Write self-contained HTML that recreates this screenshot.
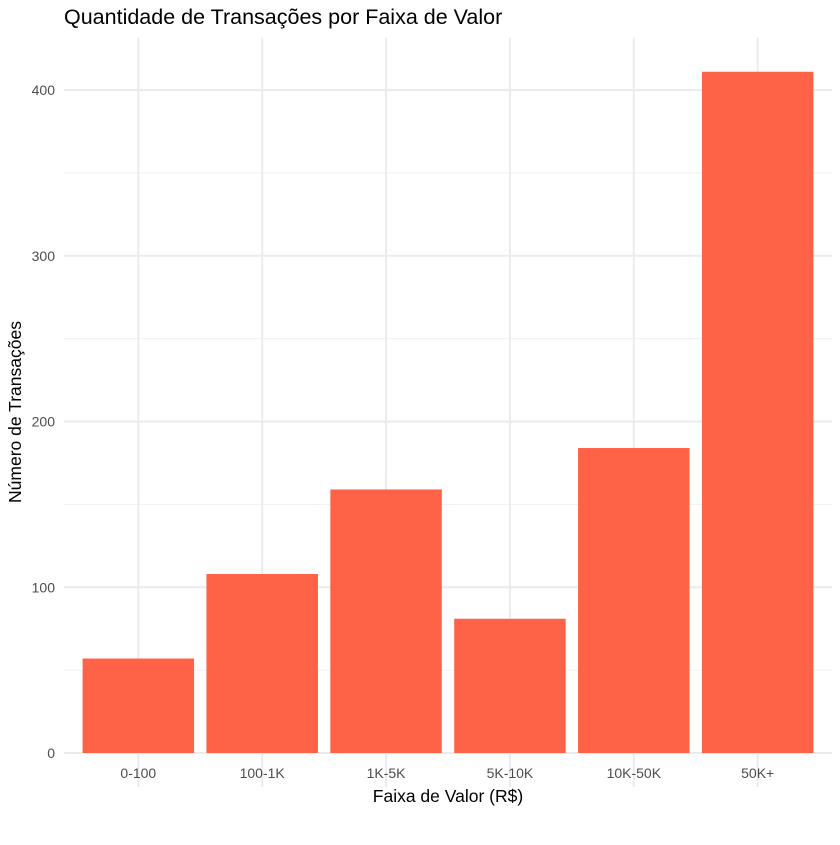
<!DOCTYPE html>
<html><head><meta charset="utf-8"><style>
body{margin:0;background:#fff;}
svg text{font-family:"Liberation Sans",sans-serif;}
</style></head><body>
<svg id="chart" width="840" height="840">
<text x="64" y="24" font-size="21.5" fill="#000">Quantidade de Transações por Faixa de Valor</text>
<g id="grid"></g><g id="bars"></g><g id="axes"></g>
<text x="448" y="802" font-size="17.5" text-anchor="middle" fill="#000">Faixa de Valor (R$)</text>
<text transform="translate(21,412) rotate(-90)" font-size="17.5" text-anchor="middle" fill="#000">Número de Transações</text>
</svg>
<script>
const categories=["0-100","100-1K","1K-5K","5K-10K","10K-50K","50K+"];
const values=[57,108,159,81,184,411];
const yTicks=[0,100,200,300,400];
const ns="http://www.w3.org/2000/svg";
const pl=64,pr=832,y0=753,unit=(753-90)/400;
const step=(pr-pl)/(categories.length+0.2);
const xc=i=>pl+step*(0.6+i);
const ys=v=>y0-v*unit;
function mk(t,a,p){const e=document.createElementNS(ns,t);for(const k in a)e.setAttribute(k,a[k]);p.appendChild(e);return e;}
const grid=document.getElementById('grid'),bars=document.getElementById('bars'),axes=document.getElementById('axes');
const panelTop=ys(431.5),panelBot=ys(-20.5);
yTicks.forEach((t,i)=>{
 const l=mk('line',{x1:pl,x2:pr,y1:ys(t),y2:ys(t),stroke:'#ebebeb','stroke-width':2},grid);
 
 
 if(i<yTicks.length-1){const m=mk('line',{x1:pl,x2:pr,y1:ys(t+50),y2:ys(t+50),stroke:'#f0f0f0','stroke-width':1},grid);
 
 }
 const tx=mk('text',{x:pl-9,y:ys(t)+5,'font-size':14,'text-anchor':'end',fill:'#4d4d4d'},axes);
 tx.textContent=t;
 
 
});
categories.forEach((c,i)=>{
 const g=mk('line',{x1:xc(i),x2:xc(i),y1:panelTop,y2:panelBot,stroke:'#ebebeb','stroke-width':2},grid);
 
 
 const w=step*0.9;
 const r=mk('rect',{x:xc(i)-w/2,y:ys(values[i]),width:w,height:y0-ys(values[i]),fill:'#ff6347'},bars);
 
 
 const tx=mk('text',{x:xc(i),y:778,'font-size':14,'text-anchor':'middle',fill:'#4d4d4d'},axes);
 tx.textContent=c;
 
 
});
</script>
</body></html>
